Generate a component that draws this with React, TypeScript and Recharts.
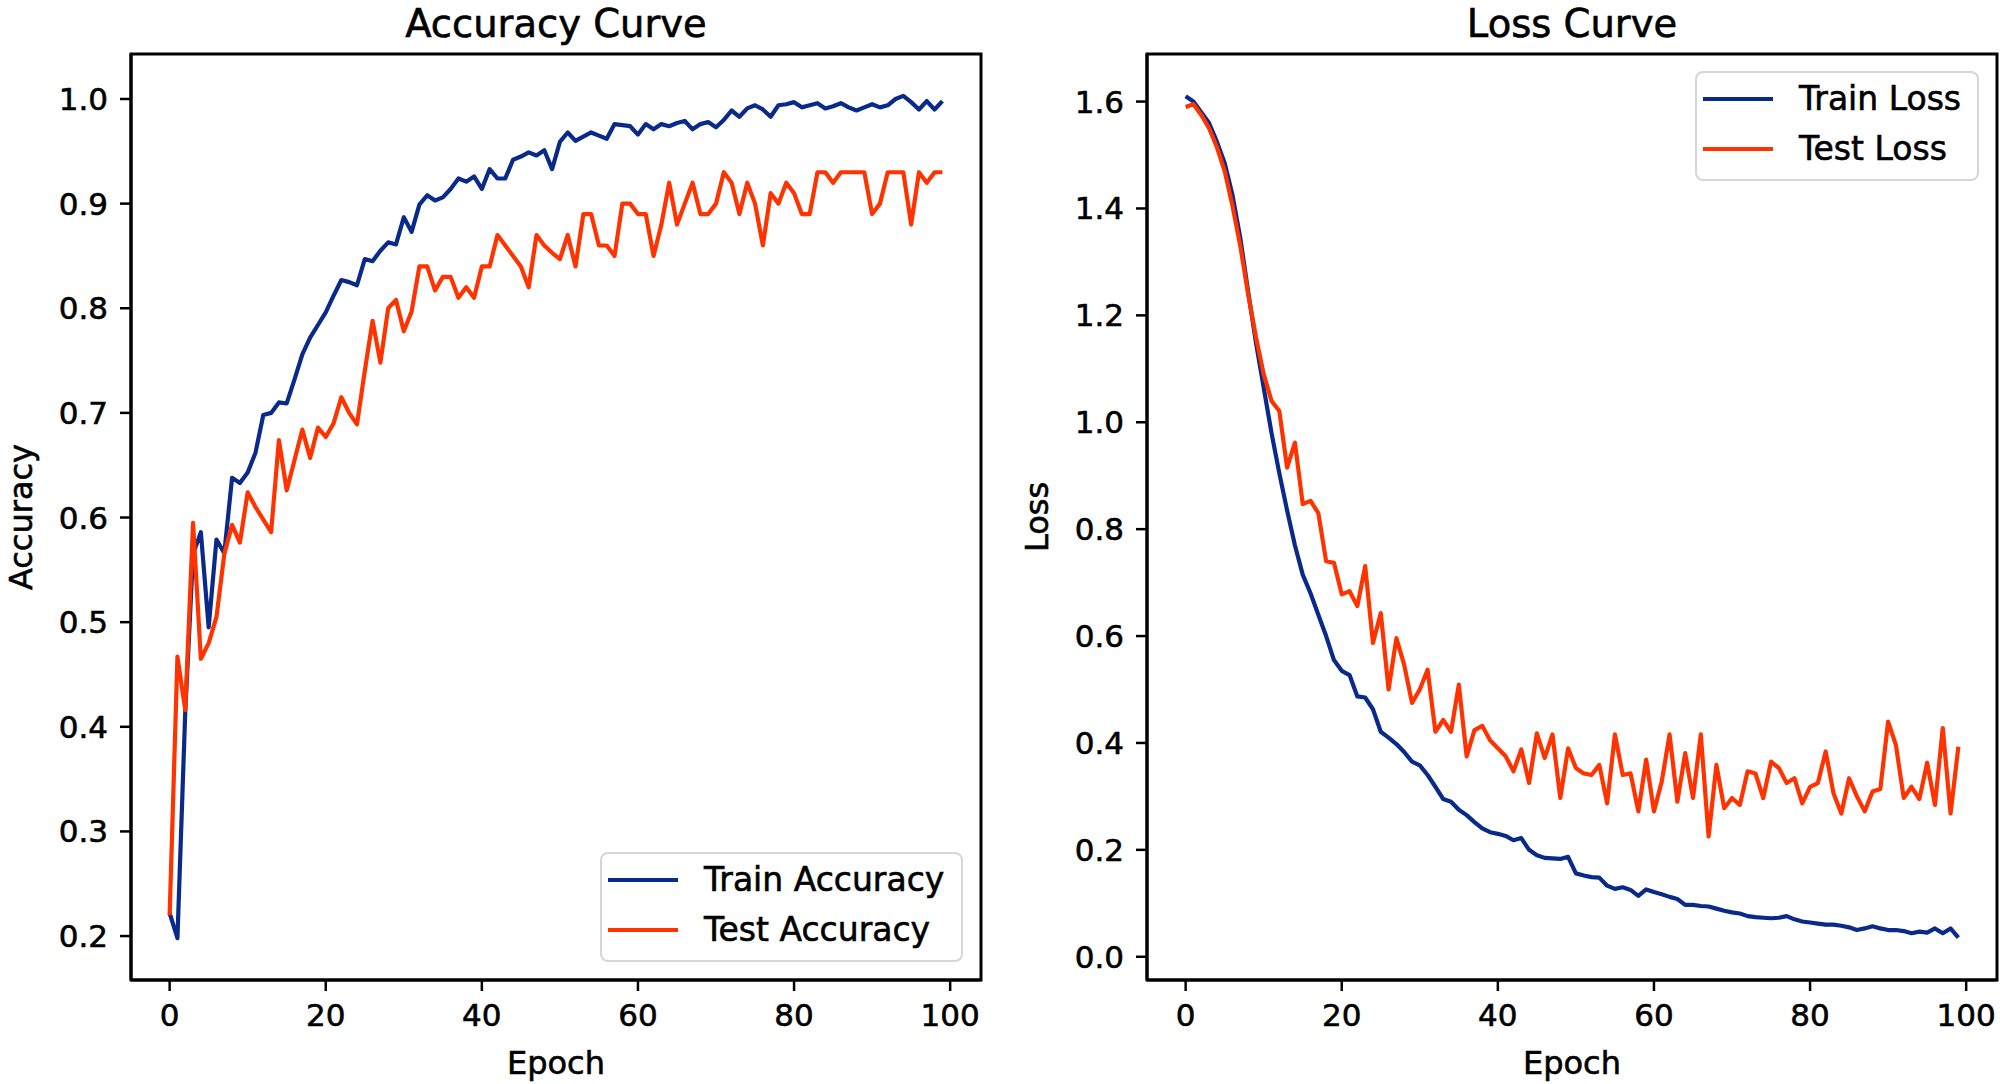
import { LineChart, Line, XAxis, YAxis, Legend, ReferenceArea } from 'recharts';

const FONT = '"DejaVu Sans", "Noto Sans", sans-serif';
const BLUE = '#0a2a8a';
const RED = '#ff3300';

// values, one per epoch (0..99)
const trainAcc = [
  0.222, 0.198, 0.414, 0.565, 0.586, 0.495, 0.579, 0.566, 0.638, 0.633,
  0.643, 0.662, 0.698, 0.7, 0.71, 0.709, 0.732, 0.756, 0.772, 0.784,
  0.796, 0.812, 0.827, 0.825, 0.822, 0.847, 0.845, 0.855, 0.863, 0.861,
  0.887, 0.873, 0.899, 0.908, 0.903, 0.906, 0.914, 0.924, 0.921, 0.926,
  0.914, 0.933, 0.924, 0.924, 0.942, 0.945, 0.949, 0.946, 0.951, 0.933,
  0.959, 0.968, 0.96, 0.964, 0.968, 0.965, 0.962, 0.976, 0.975, 0.974,
  0.966, 0.976, 0.971, 0.976, 0.974, 0.977, 0.979, 0.971, 0.976, 0.978,
  0.973, 0.98, 0.989, 0.983, 0.991, 0.994, 0.99, 0.983, 0.994, 0.995,
  0.997, 0.992, 0.994, 0.996, 0.991, 0.993, 0.996, 0.992, 0.989, 0.992,
  0.995, 0.992, 0.994, 1.0, 1.003, 0.997, 0.99, 0.998, 0.99, 0.998,
];

const testAcc = [
  0.22, 0.467, 0.416, 0.595, 0.465, 0.48, 0.505, 0.565, 0.593, 0.576,
  0.624, 0.61, 0.598, 0.586, 0.674, 0.626, 0.655, 0.684, 0.657, 0.686,
  0.677, 0.69, 0.715, 0.7, 0.689, 0.74, 0.788, 0.748, 0.8, 0.808,
  0.778, 0.797, 0.84, 0.84, 0.817, 0.83, 0.83, 0.81, 0.82, 0.81,
  0.84, 0.84, 0.87, 0.86, 0.85, 0.84, 0.82, 0.87, 0.86, 0.853,
  0.847, 0.87, 0.84, 0.89, 0.89, 0.86, 0.86, 0.85, 0.9, 0.9,
  0.89, 0.89, 0.85, 0.88, 0.92, 0.88, 0.9, 0.92, 0.89, 0.89,
  0.9, 0.93, 0.92, 0.89, 0.92, 0.9, 0.86, 0.91, 0.9, 0.92,
  0.91, 0.89, 0.89, 0.93, 0.93, 0.92, 0.93, 0.93, 0.93, 0.93,
  0.89, 0.9, 0.93, 0.93, 0.93, 0.88, 0.93, 0.92, 0.93, 0.93,
];

const trainLoss = [
  1.61, 1.6, 1.58, 1.56, 1.525, 1.485, 1.425, 1.345, 1.245, 1.15,
  1.065, 0.98, 0.905, 0.835, 0.77, 0.715, 0.68, 0.64, 0.6, 0.555,
  0.535, 0.527, 0.487, 0.485, 0.463, 0.421, 0.41, 0.398, 0.383, 0.365,
  0.358, 0.34, 0.318, 0.295, 0.29, 0.275, 0.265, 0.252, 0.24, 0.233,
  0.23, 0.226, 0.218, 0.222, 0.2, 0.19, 0.185, 0.184, 0.183, 0.187,
  0.156, 0.152, 0.149, 0.148, 0.133, 0.127, 0.13, 0.125, 0.114, 0.126,
  0.121, 0.117, 0.112, 0.108, 0.097, 0.097, 0.095, 0.094, 0.09, 0.086,
  0.083, 0.081, 0.076, 0.074, 0.073, 0.072, 0.073, 0.076, 0.07, 0.066,
  0.064, 0.062, 0.06, 0.06, 0.058, 0.055, 0.05, 0.053, 0.057, 0.053,
  0.05, 0.05, 0.048, 0.044, 0.047, 0.045, 0.053, 0.044, 0.053, 0.036,
];

const testLoss = [
  1.59, 1.595, 1.575, 1.55, 1.515, 1.47, 1.405, 1.33, 1.24, 1.16,
  1.09, 1.04, 1.021, 0.915, 0.962, 0.847, 0.853, 0.83, 0.74, 0.737,
  0.678, 0.684, 0.656, 0.731, 0.587, 0.643, 0.5, 0.596, 0.546, 0.475,
  0.5, 0.537, 0.421, 0.443, 0.421, 0.509, 0.375, 0.424, 0.432, 0.405,
  0.39, 0.375, 0.347, 0.388, 0.325, 0.418, 0.372, 0.416, 0.297, 0.39,
  0.353, 0.343, 0.34, 0.359, 0.287, 0.416, 0.34, 0.343, 0.272, 0.369,
  0.272, 0.328, 0.416, 0.29, 0.381, 0.297, 0.416, 0.225, 0.359, 0.278,
  0.297, 0.284, 0.347, 0.343, 0.297, 0.365, 0.353, 0.325, 0.334, 0.287,
  0.318, 0.325, 0.384, 0.306, 0.268, 0.334, 0.3, 0.272, 0.309, 0.314,
  0.44, 0.396, 0.297, 0.318, 0.295, 0.363, 0.284, 0.428, 0.268, 0.393,
];

const epochTicks = [0, 20, 40, 60, 80, 100];
const accTicks = [0.2, 0.3, 0.4, 0.5, 0.6, 0.7, 0.8, 0.9, 1.0];
const lossTicks = [0, 0.2, 0.4, 0.6, 0.8, 1.0, 1.2, 1.4, 1.6];

const accData = trainAcc.map((v, i) => ({ epoch: i, train: v, test: testAcc[i] }));
const lossData = trainLoss.map((v, i) => ({ epoch: i, train: v, test: testLoss[i] }));

const X_DOMAIN = [-4.95, 103.95];

// a thin outline thickens the glyphs a little, like the blurry reference
const textInk = { fill: '#000', stroke: '#000', strokeWidth: 0.6 };
const tickStyle = { ...textInk, fontSize: 31, fontFamily: FONT };
const spine = { stroke: '#000', strokeWidth: 3 };
const tickMark = { stroke: '#000', strokeWidth: 2.5 };

const Title = ({ viewBox, text }: any) => (
  <text x={viewBox.x + viewBox.width / 2} y={viewBox.y - 17} textAnchor="middle"
    fontFamily={FONT} fontSize={38.5} {...textInk}>{text}</text>
);

const XTitle = ({ viewBox, text }: any) => (
  <text x={viewBox.x + viewBox.width / 2} y={viewBox.y + 94} textAnchor="middle"
    fontFamily={FONT} fontSize={32} {...textInk}>{text}</text>
);

const YTitle = ({ viewBox, text }: any) => {
  const x = viewBox.x - 40;
  const y = viewBox.y + viewBox.height / 2;
  return (
    <text x={x} y={y} transform={`rotate(-90 ${x} ${y})`} textAnchor="middle"
      dominantBaseline="central" fontFamily={FONT} fontSize={32} {...textInk}>{text}</text>
  );
};

const LegendBox = ({ items, width }: any) => (
  <div style={{
    position: 'relative', width, height: 110, boxSizing: 'border-box',
    border: '2px solid #d6d6d6', borderRadius: 8, background: 'rgba(255,255,255,0.85)',
    fontFamily: FONT, fontSize: 33, color: '#000', WebkitTextStroke: '0.6px #000',
  }}>
    {items.map((it: any, i: number) => (
      <div key={it.label} style={{
        position: 'absolute', left: 0, top: 6 + 50 * i, height: 40,
        display: 'flex', alignItems: 'center',
      }}>
        <div style={{ marginLeft: 6, width: 70, height: 4.5, background: it.color }} />
        <span style={{ marginLeft: 26, lineHeight: '40px', whiteSpace: 'nowrap' }}>{it.label}</span>
      </div>
    ))}
  </div>
);

function Panel({ data, title, yLabel, yDomain, yTicks, margin, legendPos, legendItems }: any) {
  return (
    <LineChart width={1000} height={1084} data={data} margin={margin}>
      <XAxis dataKey="epoch" type="number" domain={X_DOMAIN} ticks={epochTicks}
        allowDataOverflow height={60} tick={tickStyle} tickSize={11} tickMargin={13}
        axisLine={spine} tickLine={tickMark}
        label={<XTitle text="Epoch" />} />
      <YAxis type="number" domain={yDomain} ticks={yTicks} allowDataOverflow width={70}
        tick={tickStyle} tickSize={11} tickMargin={12} axisLine={spine} tickLine={tickMark}
        tickFormatter={(v: number) => v.toFixed(1)}
        label={<YTitle text={yLabel} />} />
      <ReferenceArea x1={X_DOMAIN[0]} x2={X_DOMAIN[1]} y1={yDomain[0]} y2={yDomain[1]}
        ifOverflow="visible" fill="none" fillOpacity={0} stroke="#000" strokeWidth={3}
        label={<Title text={title} />} />
      <Line type="linear" dataKey="train" stroke={BLUE} strokeWidth={4.2} dot={false}
        strokeLinejoin="round" isAnimationActive={false} />
      <Line type="linear" dataKey="test" stroke={RED} strokeWidth={4.2} dot={false}
        strokeLinejoin="round" isAnimationActive={false} />
      <Legend layout="vertical" align="center" verticalAlign="middle"
        wrapperStyle={{ left: legendPos.left, top: legendPos.top, width: legendPos.width, height: 110 }}
        content={() => <LegendBox items={legendItems} width={legendPos.width} />} />
    </LineChart>
  );
}

export default function App() {
  return (
    <div style={{ position: 'absolute', left: 0, top: 0, width: 2000, height: 1084, background: '#fff', display: 'flex', fontFamily: FONT }}>
      <Panel data={accData} title="Accuracy Curve" yLabel="Accuracy"
        yDomain={[0.158, 1.043]} yTicks={accTicks}
        margin={{ top: 54, right: 19, bottom: 44, left: 61 }}
        legendPos={{ left: 600, top: 852, width: 363 }}
        legendItems={[{ label: 'Train Accuracy', color: BLUE }, { label: 'Test Accuracy', color: RED }]} />
      <Panel data={lossData} title="Loss Curve" yLabel="Loss"
        yDomain={[-0.0435, 1.689]} yTicks={lossTicks}
        margin={{ top: 54, right: 3, bottom: 44, left: 77 }}
        legendPos={{ left: 695, top: 71, width: 284 }}
        legendItems={[{ label: 'Train Loss', color: BLUE }, { label: 'Test Loss', color: RED }]} />
    </div>
  );
}
